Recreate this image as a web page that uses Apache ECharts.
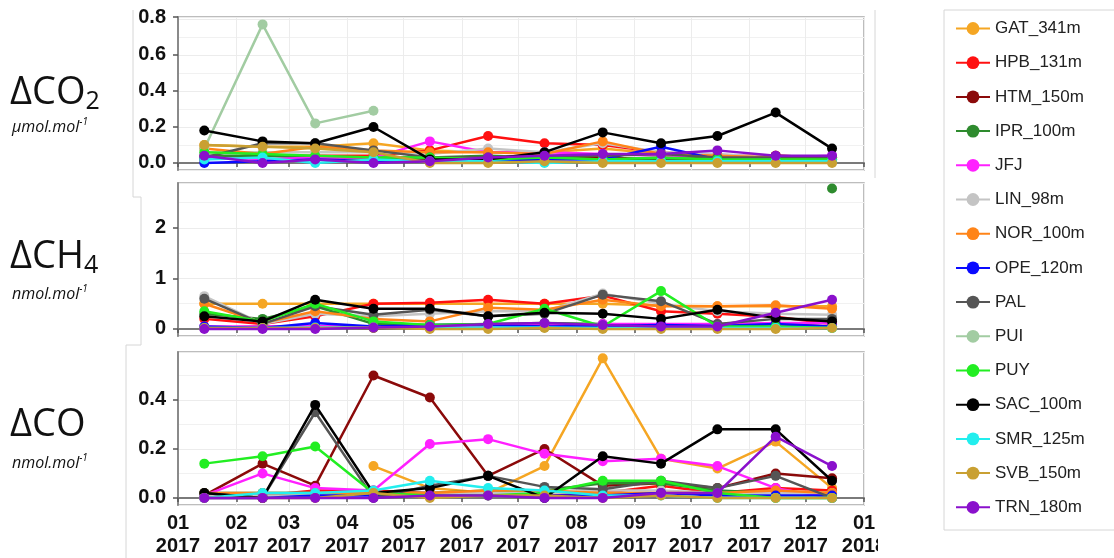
<!DOCTYPE html>
<html>
<head>
<meta charset="utf-8">
<title>Monthly differences 2017</title>
<script src="https://cdn.jsdelivr.net/npm/echarts@6/dist/echarts.min.js"></script>
<style>
  html, body { margin: 0; padding: 0; background: #fff; }
  #chart { width: 1114px; height: 558px; }
</style>
</head>
<body>
<div id="chart"></div>
<script>
// Mid-month sampling dates
const months = ['2017-01-15','2017-02-15','2017-03-15','2017-04-15','2017-05-15','2017-06-15',
                '2017-07-15','2017-08-15','2017-09-15','2017-10-15','2017-11-15','2017-12-15'];

const stations = ['GAT_341m','HPB_131m','HTM_150m','IPR_100m','JFJ','LIN_98m','NOR_100m',
                  'OPE_120m','PAL','PUI','PUY','SAC_100m','SMR_125m','SVB_150m','TRN_180m'];
const stationColors = ['#F5A623','#FF1010','#8B0A0A','#2E8B2E','#FF20FF','#C4C4C4','#FF8418',
                       '#0A0AFF','#555555','#A2CCA2','#22EE22','#000000','#22EEEE','#C9A032','#8A10CC'];

// ΔCO2 (µmol/mol)
const co2_GAT = [0.10, 0.09, 0.09, 0.11, 0.07, 0.06, 0.06, 0.08, 0.05, 0.04, 0.03, 0.03];
const co2_HPB = [0.03, 0.04, 0.04, 0.04, 0.07, 0.15, 0.11, 0.10, 0.06, 0.04, 0.04, 0.03];
const co2_HTM = [0.02, 0.05, 0.03, 0.02, 0.02, 0.03, 0.02, 0.03, 0.02, 0.03, 0.04, 0.03];
const co2_IPR = [0.04, 0.04, 0.03, 0.03, 0.03, 0.04, 0.03, 0.02, 0.02, 0.02, 0.02, 0.02];
const co2_JFJ = [0.03, 0.02, 0.03, 0.03, 0.12, 0.06, 0.06, 0.05, 0.04, 0.04, 0.03, 0.04];
const co2_LIN = [0.06, 0.06, 0.06, 0.06, 0.05, 0.08, 0.06, 0.11, 0.06, 0.05, 0.03, 0.03];
const co2_NOR = [0.08, 0.05, 0.09, 0.07, 0.06, 0.06, 0.05, 0.12, 0.05, 0.04, 0.03, 0.03];
const co2_OPE = [0.00, 0.01, 0.02, 0.01, 0.01, 0.01, 0.02, 0.02, 0.09, 0.02, 0.01, 0.02];
const co2_PAL = [0.03, 0.11, 0.11, 0.07, 0.03, 0.03, 0.04, 0.04, 0.05, 0.03, 0.03, 0.03];
const co2_PUI = [0.08, 0.77, 0.22, 0.29, null, null, null, null, null, null, null, null];
const co2_PUY = [0.06, 0.05, 0.04, 0.03, 0.03, 0.02, 0.03, 0.02, 0.03, 0.02, 0.02, 0.02];
const co2_SAC = [0.18, 0.12, 0.11, 0.20, 0.02, 0.02, 0.06, 0.17, 0.11, 0.15, 0.28, 0.08];
const co2_SMR = [0.02, 0.03, 0.00, 0.02, 0.01, 0.01, 0.00, 0.01, 0.01, 0.01, 0.01, 0.01];
const co2_SVB = [0.10, 0.09, 0.08, 0.06, 0.00, 0.00, 0.01, 0.00, 0.00, 0.00, 0.00, 0.00];
const co2_TRN = [0.04, 0.00, 0.02, 0.00, 0.01, 0.03, 0.04, 0.05, 0.05, 0.07, 0.04, 0.04];

// ΔCH4 (nmol/mol)
const ch4_GAT = [0.50, 0.50, 0.50, 0.50, 0.50, 0.50, 0.50, 0.50, 0.46, 0.45, 0.45, 0.45];
const ch4_HPB = [0.20, 0.10, 0.25, 0.50, 0.52, 0.58, 0.50, 0.66, 0.35, 0.30, 0.24, 0.10];
const ch4_HTM = [0.02, 0.05, 0.03, 0.02, 0.03, 0.05, 0.05, 0.02, 0.04, 0.05, 0.10, 0.05];
const ch4_IPR = [0.30, 0.20, 0.45, 0.10, 0.08, 0.10, 0.12, 0.10, 0.08, 0.05, null, 2.78];
const ch4_JFJ = [0.05, 0.05, 0.06, 0.05, 0.06, 0.06, 0.08, 0.10, 0.10, 0.10, 0.12, 0.12];
const ch4_LIN = [0.65, 0.10, 0.30, 0.25, 0.30, 0.35, 0.35, 0.70, 0.50, 0.35, 0.30, 0.28];
const ch4_NOR = [0.50, 0.12, 0.35, 0.20, 0.15, 0.42, 0.38, 0.58, 0.45, 0.45, 0.47, 0.40];
const ch4_OPE = [0.05, 0.02, 0.12, 0.05, 0.08, 0.08, 0.05, 0.06, 0.08, 0.06, 0.10, 0.05];
const ch4_PAL = [0.60, 0.10, 0.45, 0.28, 0.38, 0.25, 0.30, 0.68, 0.55, 0.10, 0.20, 0.20];
const ch4_PUI = [null, null, null, null, null, null, null, null, null, null, null, null];
const ch4_PUY = [0.35, 0.15, 0.50, 0.15, 0.08, 0.10, 0.40, 0.05, 0.75, 0.05, 0.05, 0.02];
const ch4_SAC = [0.25, 0.15, 0.58, 0.40, 0.40, 0.25, 0.32, 0.30, 0.20, 0.38, 0.22, 0.15];
const ch4_SMR = [0.02, 0.02, 0.03, 0.03, 0.02, 0.03, 0.03, 0.02, 0.02, 0.02, 0.02, 0.02];
const ch4_SVB = [0.02, 0.02, 0.02, 0.03, 0.00, 0.00, 0.02, 0.00, 0.00, 0.00, 0.00, 0.02];
const ch4_TRN = [0.00, 0.00, 0.00, 0.03, 0.05, 0.10, 0.12, 0.08, 0.05, 0.05, 0.32, 0.58];

// ΔCO (nmol/mol)
const co_GAT = [null, null, null, 0.13, 0.04, 0.02, 0.13, 0.57, 0.16, 0.12, 0.23, 0.04];
const co_HPB = [0.01, 0.01, 0.03, 0.03, 0.02, 0.02, 0.01, 0.02, 0.05, 0.02, 0.04, 0.03];
const co_HTM = [0.01, 0.14, 0.05, 0.50, 0.41, 0.09, 0.20, 0.05, 0.06, 0.04, 0.10, 0.08];
const co_IPR = [0.02, 0.02, 0.02, 0.02, 0.02, 0.03, 0.03, 0.06, 0.06, 0.03, 0.02, 0.02];
const co_JFJ = [0.01, 0.10, 0.04, 0.03, 0.22, 0.24, 0.18, 0.15, 0.16, 0.13, 0.04, 0.00];
const co_LIN = [0.01, 0.01, 0.01, 0.02, 0.02, 0.02, 0.02, 0.03, 0.03, 0.02, 0.02, 0.02];
const co_NOR = [0.02, 0.02, 0.02, 0.02, 0.02, 0.03, 0.03, 0.02, 0.02, 0.02, 0.03, 0.02];
const co_OPE = [0.00, 0.00, 0.01, 0.01, 0.01, 0.01, 0.01, 0.01, 0.02, 0.01, 0.01, 0.01];
const co_PAL = [0.02, 0.00, 0.35, 0.00, 0.05, 0.09, 0.045, 0.035, 0.07, 0.04, 0.09, 0.00];
const co_PUI = [null, null, null, null, null, null, null, null, null, null, null, null];
const co_PUY = [0.14, 0.17, 0.21, 0.02, 0.01, 0.01, 0.02, 0.07, 0.07, 0.02, 0.00, 0.00];
const co_SAC = [0.02, 0.00, 0.38, 0.02, 0.04, 0.09, 0.00, 0.17, 0.14, 0.28, 0.28, 0.07];
const co_SMR = [0.00, 0.02, 0.02, 0.03, 0.07, 0.04, 0.03, 0.01, 0.01, 0.00, 0.00, 0.00];
const co_SVB = [0.00, 0.00, 0.00, 0.02, 0.00, 0.01, 0.01, 0.00, 0.01, 0.00, 0.00, 0.00];
const co_TRN = [0.00, 0.00, 0.00, 0.00, 0.01, 0.01, 0.00, 0.00, 0.02, 0.02, 0.25, 0.13];

const panels = [
  [co2_GAT, co2_HPB, co2_HTM, co2_IPR, co2_JFJ, co2_LIN, co2_NOR, co2_OPE, co2_PAL, co2_PUI, co2_PUY, co2_SAC, co2_SMR, co2_SVB, co2_TRN],
  [ch4_GAT, ch4_HPB, ch4_HTM, ch4_IPR, ch4_JFJ, ch4_LIN, ch4_NOR, ch4_OPE, ch4_PAL, ch4_PUI, ch4_PUY, ch4_SAC, ch4_SMR, ch4_SVB, ch4_TRN],
  [co_GAT, co_HPB, co_HTM, co_IPR, co_JFJ, co_LIN, co_NOR, co_OPE, co_PAL, co_PUI, co_PUY, co_SAC, co_SMR, co_SVB, co_TRN]
];

// y-axis ranges per panel
const yMin = [-0.039, -0.139, -0.029];
const yMax = [0.811, 2.89, 0.596];
const ySplit = [5, 3, 3];
const yDecimals = [1, 0, 1];

const AXIS_FONT = '"Liberation Sans", Arial, sans-serif';
const gridTops = [17, 183, 352];
const GRID_H = 153;

const grids = gridTops.map(t => ({
  left: 178, width: 686, top: t, height: GRID_H,
  show: true, borderColor: '#a8a8a8', borderWidth: 1.5, containLabel: false
}));

const xAxes = gridTops.map((t, i) => ({
  type: 'time', gridIndex: i,
  min: '2017-01-01', max: '2018-01-01', splitNumber: 12,
  axisLine: { show: true, lineStyle: { color: '#7a7a7a', width: 2 } },
  axisTick: { show: true, length: 4, lineStyle: { color: '#555', width: 1.5 } },
  splitLine: { show: true, lineStyle: { color: '#ececec', width: 1 } },
  axisLabel: {
    show: i === 2, formatter: '{MM}\n{yyyy}', color: '#111',
    fontFamily: AXIS_FONT, fontWeight: 'bold', fontSize: 20, lineHeight: 23, margin: 7,
    showMinLabel: true, showMaxLabel: true, hideOverlap: false
  }
}));

const yAxes = gridTops.map((t, i) => ({
  type: 'value', gridIndex: i,
  min: yMin[i], max: yMax[i], splitNumber: ySplit[i],
  axisLine: { show: true, lineStyle: { color: '#8a8a8a', width: 2 } },
  axisTick: { show: true, length: 5, lineStyle: { color: '#555', width: 1.5 } },
  splitLine: { show: true, lineStyle: { color: '#ececec', width: 1 } },
  minorTick: { show: false, splitNumber: 2 },
  minorSplitLine: { show: true, lineStyle: { color: '#f1f1f1', width: 1 } },
  axisLabel: {
    color: '#111', fontFamily: AXIS_FONT, fontWeight: 'bold', fontSize: 20, margin: 12,
    showMinLabel: false, showMaxLabel: i === 0,
    formatter: v => (v < -1e-9 ? '' : v.toFixed(yDecimals[i]))
  }
}));

const series = [];
panels.forEach((panel, p) => {
  panel.forEach((vals, s) => {
    series.push({
      name: stations[s], type: 'line', xAxisIndex: p, yAxisIndex: p,
      data: months.map((m, k) => [m, vals[k] == null ? '-' : vals[k]]),
      symbol: 'circle', symbolSize: 10, showSymbol: true,
      lineStyle: { width: 2.5, color: stationColors[s] },
      itemStyle: { color: stationColors[s] },
      emphasis: { disabled: true },
      connectNulls: false, z: 2 + s
    });
  });
});

const TITLE_FONT = '"Open Sans", "Noto Sans", sans-serif';
function bigLabel(main, sub, x, y) {
  return {
    type: 'text', left: x, top: y, z: 10,
    style: {
      text: sub ? '{a|' + main + '}{b|' + sub + '}' : '{a|' + main + '}',
      rich: {
        a: { fontSize: 38, fontFamily: TITLE_FONT, fill: '#111', lineHeight: 42 },
        b: { fontSize: 25, fontFamily: TITLE_FONT, fill: '#111', lineHeight: 22, verticalAlign: 'bottom' }
      }
    }
  };
}
function unitLabel(main, x, y) {
  return {
    type: 'text', left: x, top: y, z: 10,
    style: {
      text: '{a|' + main + '}{b|-1}',
      rich: {
        a: { fontSize: 16, fontStyle: 'italic', fontFamily: TITLE_FONT, fill: '#111', lineHeight: 20 },
        b: { fontSize: 10, fontStyle: 'italic', fontFamily: TITLE_FONT, fill: '#111', lineHeight: 12, verticalAlign: 'top' }
      }
    }
  };
}

const frameStyle = { stroke: '#d6d6d6', lineWidth: 1, fill: null };

const option = {
  animation: false,
  backgroundColor: '#fff',
  grid: grids,
  xAxis: xAxes,
  yAxis: yAxes,
  legend: {
    data: stations, orient: 'vertical', left: 950, top: 15,
    itemWidth: 34, itemHeight: 16, itemGap: 17.2,
    textStyle: { fontFamily: AXIS_FONT, fontSize: 17, lineHeight: 16, color: '#222' },
    inactiveColor: '#ccc'
  },
  graphic: [
    // legend frame
    { type: 'rect', shape: { x: 944, y: 10, width: 200, height: 520 }, style: frameStyle, z: 0 },
    // panel frames on the left
    { type: 'polyline', shape: { points: [[133, 10], [133, 197], [141, 197], [141, 345], [126, 345], [126, 560]] }, style: frameStyle, z: 0 },
    { type: 'polyline', shape: { points: [[875, 10], [875, 178]] }, style: frameStyle, z: 0 },
    // edge clipping of the last month label
    { type: 'rect', shape: { x: 878, y: 508, width: 60, height: 50 }, style: { fill: '#fff' }, z: 100 },
    bigLabel('ΔCO', '2', 10, 74),
    unitLabel('µmol.mol', 12, 117),
    bigLabel('ΔCH', '4', 10, 238),
    unitLabel('nmol.mol', 12, 284),
    bigLabel('ΔCO', '', 10, 406),
    unitLabel('nmol.mol', 12, 453)
  ],
  series: series
};

const chart = echarts.init(document.getElementById('chart'), null, { renderer: 'canvas' });
chart.setOption(option);
</script>
</body>
</html>
